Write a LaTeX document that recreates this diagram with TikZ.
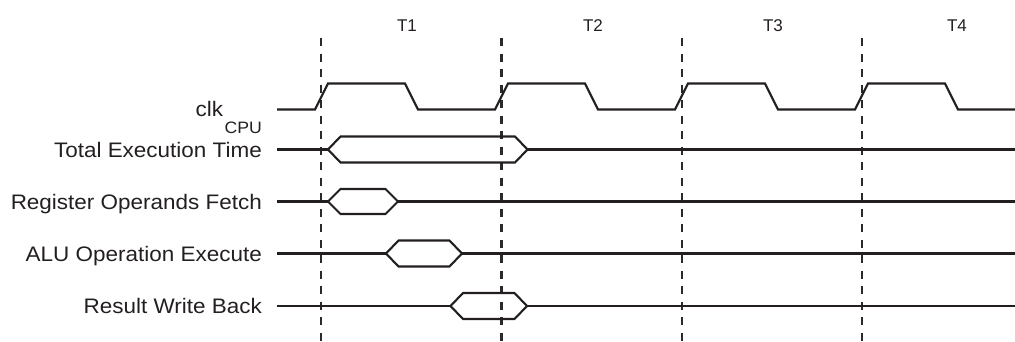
\documentclass[tikz,border=0pt]{standalone}
\usepackage{fontspec}
\setmainfont{Liberation Sans}
\definecolor{ink}{HTML}{231F20}
\definecolor{dashink}{HTML}{2A2A2A}
\newcommand{\lblfont}{\fontsize{21}{25}\selectfont}
\newcommand{\lbl}[1]{\scalebox{1.07}[1]{#1}}
\begin{document}
\begin{tikzpicture}[x=1pt,y=-1pt,
  wave/.style={draw=ink, line width=2.1pt, line join=miter},
  grid/.style={draw=dashink, line width=2.3pt, dash pattern=on 8pt off 7.5pt},
  sig/.style={anchor=base east, inner sep=0pt, text=ink, font=\lblfont},
  tlab/.style={anchor=base, inner sep=0pt, text=ink, font=\fontsize{17}{20}\selectfont}]
\useasboundingbox (0,0) rectangle (1015,341);

% vertical dashed cycle markers
\foreach \i/\x in {1/321,2/501.5,3/682,4/862}{
  \coordinate (g\i top) at (\x,38);
  \coordinate (g\i bot) at (\x,345);
  \draw[grid] (g\i top) -- (g\i bot);
}

% cycle labels
\node[tlab] (t1) at (407,31.5) {T1};
\node[tlab] (t2) at (593,31.5) {T2};
\node[tlab] (t3) at (773,31.5) {T3};
\node[tlab] (t4) at (957,31.5) {T4};

% signal labels
\node[sig, font=\fontsize{16.5}{19}\selectfont] (cpu) at (262,133) {\lbl{CPU}};
\node[sig] (clk) at ([xshift=-1pt,yshift=16.3pt]cpu.base west) {\lbl{clk}};
\node[sig] (tot) at (262,157.2) {\lbl{Total Execution Time}};
\node[sig] (reg) at (262,209.2) {\lbl{Register Operands Fetch}};
\node[sig] (alu) at (262,261.2) {\lbl{ALU Operation Execute}};
\node[sig] (res) at (262,313.7) {\lbl{Result Write Back}};

% clock
\draw[wave] (277,109.5)
  foreach \k in {0,...,3} {
    -- ({315+180*\k},109.5) -- ({328+180*\k},83.5)
    -- ({405+180*\k},83.5) -- ({418+180*\k},109.5) }
  -- (1015,109.5);

% bus-style hexagons
\newcommand{\busseg}[4]{% xl, xr, y, half height
  \draw[wave] (277,#3) -- (#1,#3);
  \draw[wave] (#1,#3)
    -- ({#1+12.5},{#3-#4}) -- ({#2-12.5},{#3-#4}) -- (#2,#3)
    -- ({#2-12.5},{#3+#4}) -- ({#1+12.5},{#3+#4}) -- cycle;
  \draw[wave] (#2,#3) -- (1015,#3);
}
\busseg{328}{527.5}{149.5}{13}
\busseg{328}{398}{201.5}{12.5}
\busseg{386}{462}{253.5}{13}
\busseg{450.5}{527}{306}{13}
\end{tikzpicture}
\end{document}
